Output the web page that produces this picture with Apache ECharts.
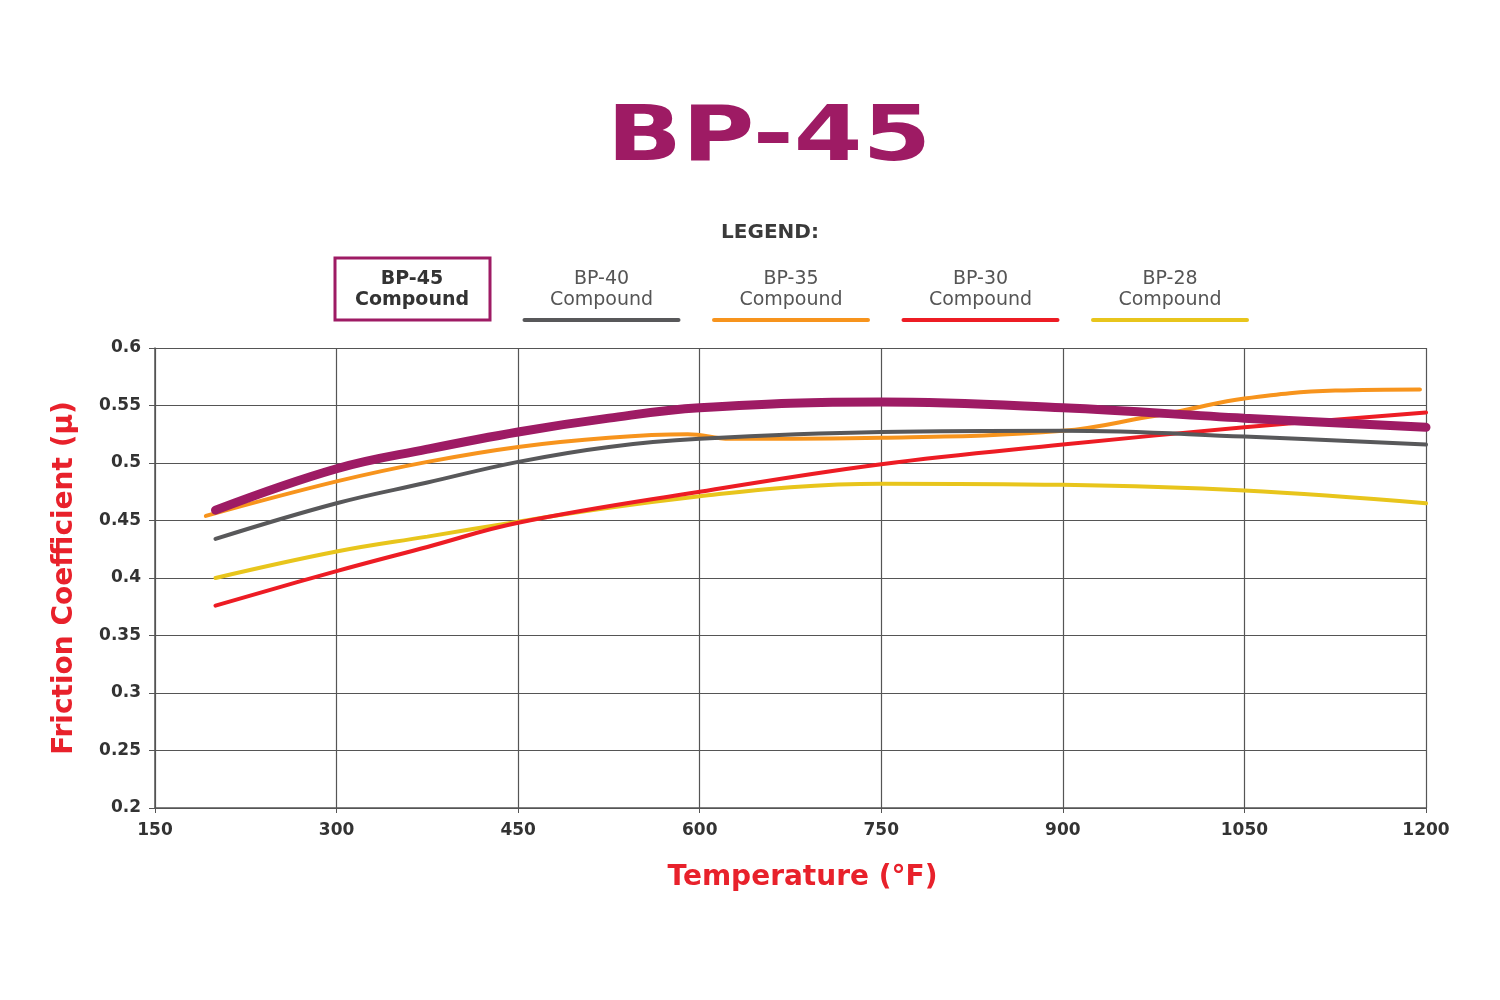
<!DOCTYPE html>
<html>
<head>
<meta charset="utf-8">
<title>BP-45</title>
<script src="https://cdn.jsdelivr.net/npm/echarts@6/dist/echarts.min.js"></script>
<style>
  html, body { margin: 0; padding: 0; background: #fff; }
  #chart { width: 1500px; height: 1000px; }
</style>
</head>
<body>
<div id="chart"></div>
<script>
// values
const seriesNames = ['BP-45', 'BP-40', 'BP-35', 'BP-30', 'BP-28']
const seriesColors = ['#9e1b64', '#58585a', '#f7941d', '#ed1c24', '#e8c51c']
const xTicks = [150, 300, 450, 600, 750, 900, 1050, 1200]

const bp45Temp = [200, 300, 375, 450, 525, 600, 750, 900, 1050, 1200]
const bp45Mu = [0.459, 0.495, 0.512, 0.527, 0.539, 0.548, 0.553, 0.548, 0.539, 0.531]

const bp40Temp = [200, 300, 375, 450, 525, 600, 750, 900, 1050, 1200]
const bp40Mu = [0.434, 0.465, 0.483, 0.501, 0.514, 0.521, 0.527, 0.528, 0.523, 0.516]

const bp35Temp = [192, 300, 375, 450, 525, 590, 625, 750, 900, 970, 1000, 1050, 1125, 1195]
const bp35Mu = [0.454, 0.484, 0.501, 0.514, 0.522, 0.525, 0.521, 0.522, 0.528, 0.540, 0.546, 0.556, 0.563, 0.564]

const bp30Temp = [200, 300, 375, 450, 600, 750, 900, 1050, 1200]
const bp30Mu = [0.376, 0.406, 0.427, 0.448, 0.475, 0.499, 0.516, 0.531, 0.544]

const bp28Temp = [200, 300, 375, 450, 525, 600, 675, 750, 900, 1050, 1200]
const bp28Mu = [0.400, 0.423, 0.436, 0.449, 0.461, 0.471, 0.479, 0.482, 0.481, 0.476, 0.465]

const temps = [bp45Temp, bp40Temp, bp35Temp, bp30Temp, bp28Temp]
const mus = [bp45Mu, bp40Mu, bp35Mu, bp30Mu, bp28Mu]
const lineWidths = [9, 4, 4, 4, 4]

const chart = echarts.init(document.getElementById('chart'))

const labelFont = '"DejaVu Sans", sans-serif'
const red = '#e8212b'

// legend drawn by hand: name above, coloured bar under it
let legendItems = []
seriesNames.forEach((name, i) => {
  let cx = 412 + i * 189.5
  if (i === 0) {
    legendItems.push({
      type: 'rect',
      shape: { x: cx - 77, y: 258, width: 155, height: 62 },
      style: { fill: '#fff', stroke: seriesColors[0], lineWidth: 3 }
    })
  } else {
    legendItems.push({
      type: 'line',
      shape: { x1: cx - 77, y1: 320, x2: cx + 77, y2: 320 },
      style: { stroke: seriesColors[i], lineWidth: 4, lineCap: 'round' }
    })
  }
  legendItems.push({
    type: 'text',
    x: cx,
    y: 290,
    style: {
      text: name + '\nCompound',
      x: 0, y: 0,
      align: 'center',
      verticalAlign: 'middle',
      fill: i === 0 ? '#333' : '#555',
      font: (i === 0 ? 'bold ' : '') + '19px ' + labelFont,
      lineHeight: 21
    }
  })
})

chart.setOption({
  backgroundColor: '#fff',
  animation: false,
  grid: { left: 155, right: 74, top: 348, bottom: 192 },
  graphic: [
    {
      type: 'text',
      x: 769, y: 140,
      scaleX: 1.3,
      style: {
        text: 'BP-45',
        align: 'center', verticalAlign: 'middle',
        fill: '#9e1b64',
        font: '900 76px "DejaVu Sans", sans-serif'
      }
    },
    {
      type: 'text',
      x: 770, y: 233,
      style: {
        text: 'LEGEND:',
        align: 'center', verticalAlign: 'middle',
        fill: '#3a3a3a',
        font: 'bold 20px ' + labelFont
      }
    },
    ...legendItems
  ],
  xAxis: {
    type: 'value',
    min: xTicks[0],
    max: xTicks[xTicks.length - 1],
    interval: 150,
    name: 'Temperature (°F)',
    nameLocation: 'middle',
    nameGap: 56,
    nameTextStyle: {
      color: red, fontFamily: labelFont, fontWeight: 'bold', fontSize: 28,
      padding: [0, 0, 0, 24]
    },
    axisLine: { show: true, lineStyle: { color: '#555', width: 1.5 } },
    axisTick: { show: true, length: 5, lineStyle: { color: '#555' } },
    axisLabel: {
      color: '#333', fontFamily: labelFont, fontWeight: 'bold', fontSize: 17, margin: 14,
      formatter: v => String(v)
    },
    splitLine: { show: true, lineStyle: { color: '#555', width: 1.2 } }
  },
  yAxis: {
    type: 'value',
    min: 0.2,
    max: 0.6,
    interval: 0.05,
    name: 'Friction Coefficient (μ)',
    nameLocation: 'middle',
    nameGap: 76,
    nameTextStyle: { color: red, fontFamily: labelFont, fontWeight: 'bold', fontSize: 28 },
    axisLine: { show: true, lineStyle: { color: '#555', width: 1.5 } },
    axisTick: { show: true, length: 6, lineStyle: { color: '#555' } },
    axisLabel: {
      color: '#333', fontFamily: labelFont, fontWeight: 'bold', fontSize: 17, margin: 14,
      formatter: v => String(Math.round(v * 100) / 100)
    },
    splitLine: { show: true, lineStyle: { color: '#555', width: 1.2 } }
  },
  series: seriesNames.map((name, i) => ({
    name: name,
    type: 'line',
    smooth: 0.4,
    showSymbol: false,
    z: 10 - i + (i === 0 ? 10 : 0),
    lineStyle: { color: seriesColors[i], width: lineWidths[i], cap: 'round' },
    data: temps[i].map((t, j) => [t, mus[i][j]])
  })).reverse()
})
</script>
</body>
</html>
